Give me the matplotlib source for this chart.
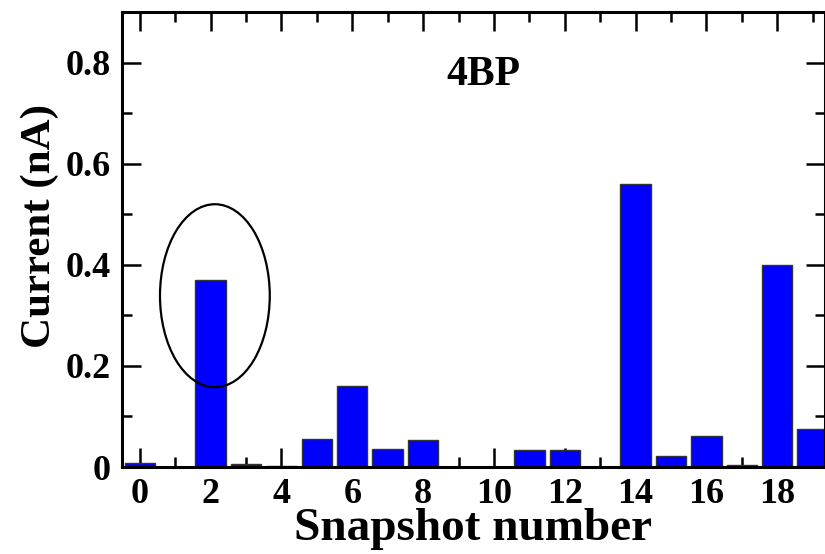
import matplotlib
matplotlib.use('Agg')
import matplotlib.pyplot as plt
from matplotlib.patches import Ellipse
from matplotlib.ticker import MultipleLocator, FuncFormatter

plt.rcParams['font.family'] = ['Liberation Serif', 'DejaVu Serif']
plt.rcParams['font.weight'] = 'bold'

# data
snapshots = list(range(20))
current = [0.008, 0.0, 0.37, 0.005, 0.002, 0.055, 0.16, 0.035, 0.053, 0.0,
           0.0, 0.034, 0.034, 0.0, 0.56, 0.021, 0.061, 0.004, 0.40, 0.075]
panel_label = '4BP'

fig = plt.figure(figsize=(8.25, 5.54), dpi=100)
ax = fig.add_axes([0.148, 0.157, 0.852, 0.821])

ax.bar(snapshots, current, width=0.86, color='#0000ff',
       edgecolor='#333333', linewidth=1.0, zorder=2)

# circle around snapshot 2
ax.add_patch(Ellipse((2.12, 0.339), 3.1, 0.362, fill=False,
                     edgecolor='black', linewidth=1.6, zorder=3))

ax.text(9.7, 0.776, panel_label, ha='center', va='center',
        fontsize=30, fontweight='bold')

ax.set_xlim(-0.5, 19.35)
ax.set_ylim(0, 0.9)

ax.xaxis.set_major_locator(MultipleLocator(2))
ax.xaxis.set_minor_locator(MultipleLocator(1))
ax.yaxis.set_major_locator(MultipleLocator(0.2))
ax.yaxis.set_minor_locator(MultipleLocator(0.1))
ax.yaxis.set_major_formatter(FuncFormatter(lambda v, p: '0' if abs(v) < 1e-9 else f'{v:.1f}'))

ax.tick_params(which='both', direction='in', top=True, right=True,
               width=1.8, labelsize=26, zorder=4)
ax.tick_params(which='major', length=14, pad=8)
ax.tick_params(which='minor', length=7)
for lab in ax.get_xticklabels() + ax.get_yticklabels():
    lab.set_fontweight('bold')
for s in ax.spines.values():
    s.set_linewidth(2.2)
    s.set_zorder(5)

ax.set_xlabel('Snapshot number', fontsize=34, fontweight='bold', labelpad=-2)
ax.set_ylabel('Current (nA)', fontsize=31, fontweight='bold')
ax.yaxis.set_label_coords(-0.09, 0.53)

fig.savefig('out.png', dpi=100)
